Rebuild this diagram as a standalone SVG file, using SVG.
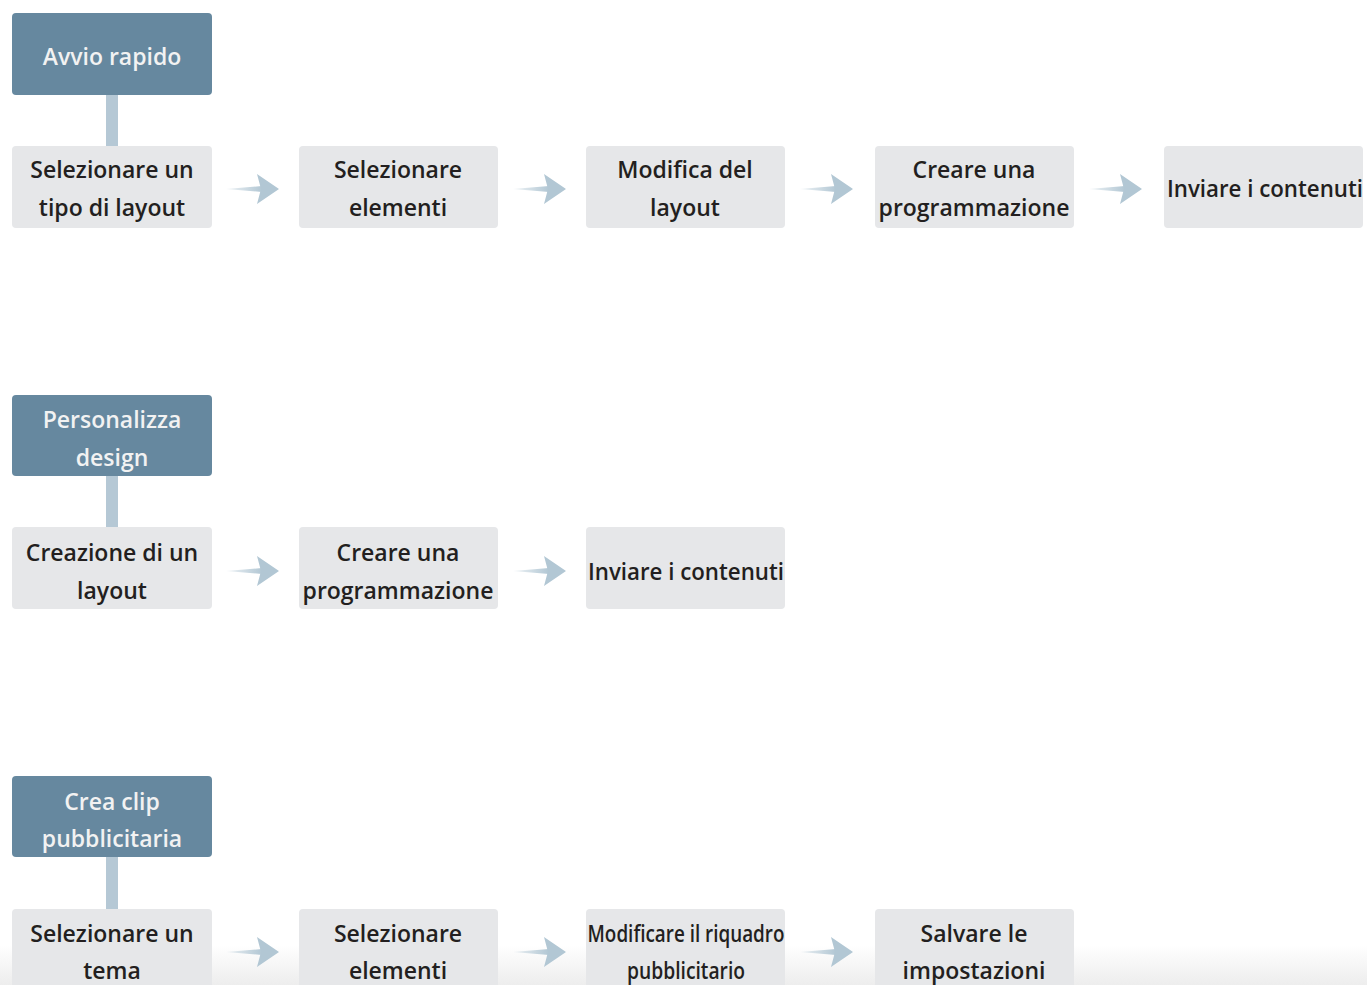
<svg xmlns="http://www.w3.org/2000/svg" width="1367" height="985" viewBox="0 0 1367 985">
<defs>
<linearGradient id="shaft" x1="0" y1="0" x2="1" y2="0">
<stop offset="0" stop-color="#b2c7d4" stop-opacity="0.2"/>
<stop offset="1" stop-color="#b2c7d4"/>
</linearGradient>
<linearGradient id="fade" x1="0" y1="0" x2="0" y2="1">
<stop offset="0" stop-color="#ffffff"/>
<stop offset="1" stop-color="#ededed"/>
</linearGradient>
<g id="arrow">
<polygon points="0,0 36,-3 36,3" fill="url(#shaft)"/>
<polygon points="31,-15 53,0 31,15 35,0" fill="#b2c7d4"/>
</g>
</defs>
<style>
.hdr{fill:#66889f}
.step{fill:#e6e7e9}
.bar{fill:#b5c8d5}
text{font-family:"Open Sans","Noto Sans",sans-serif;font-weight:600;font-size:23px;text-anchor:middle}
.ht{fill:#f2f2f2}
.st{fill:#231f20}
</style>
<rect x="0" y="945" width="1367" height="40" fill="url(#fade)"/>
<g id="connectors">
<rect class="bar" x="106" y="95" width="12" height="51"/>
<rect class="bar" x="106" y="476" width="12" height="51"/>
<rect class="bar" x="106" y="857" width="12" height="52"/>
<use href="#arrow" x="226" y="189"/>
<use href="#arrow" x="513" y="189"/>
<use href="#arrow" x="800" y="189"/>
<use href="#arrow" x="1089" y="189"/>
<use href="#arrow" x="226" y="571"/>
<use href="#arrow" x="513" y="571"/>
<use href="#arrow" x="226" y="952"/>
<use href="#arrow" x="513" y="952"/>
<use href="#arrow" x="800" y="952"/>
</g>
<g id="h1"><rect class="hdr" x="12" y="13" width="200" height="82" rx="4"/><text class="ht" x="112" y="65">Avvio rapido</text></g>
<g id="s1a"><rect class="step" x="12" y="146" width="200" height="82" rx="4"/><text class="st" x="112" y="178">Selezionare un</text><text class="st" x="112" y="216">tipo di layout</text></g>
<g id="s1b"><rect class="step" x="299" y="146" width="199" height="82" rx="4"/><text class="st" x="398" y="178">Selezionare</text><text class="st" x="398" y="216">elementi</text></g>
<g id="s1c"><rect class="step" x="586" y="146" width="199" height="82" rx="4"/><text class="st" x="685" y="178">Modifica del</text><text class="st" x="685" y="216">layout</text></g>
<g id="s1d"><rect class="step" x="875" y="146" width="199" height="82" rx="4"/><text class="st" x="974" y="178">Creare una</text><text class="st" x="974" y="216">programmazione</text></g>
<g id="s1e"><rect class="step" x="1164" y="146" width="199" height="82" rx="4"/><text class="st" x="1265" y="197" textLength="196" lengthAdjust="spacingAndGlyphs">Inviare i contenuti</text></g>
<g id="h2"><rect class="hdr" x="12" y="395" width="200" height="81" rx="4"/><text class="ht" x="112" y="428">Personalizza</text><text class="ht" x="112" y="466">design</text></g>
<g id="s2a"><rect class="step" x="12" y="527" width="200" height="82" rx="4"/><text class="st" x="112" y="561">Creazione di un</text><text class="st" x="112" y="599">layout</text></g>
<g id="s2b"><rect class="step" x="299" y="527" width="199" height="82" rx="4"/><text class="st" x="398" y="561">Creare una</text><text class="st" x="398" y="599">programmazione</text></g>
<g id="s2c"><rect class="step" x="586" y="527" width="199" height="82" rx="4"/><text class="st" x="686" y="580" textLength="196" lengthAdjust="spacingAndGlyphs">Inviare i contenuti</text></g>
<g id="h3"><rect class="hdr" x="12" y="776" width="200" height="81" rx="4"/><text class="ht" x="112" y="810">Crea clip</text><text class="ht" x="112" y="847">pubblicitaria</text></g>
<g id="s3a"><rect class="step" x="12" y="909" width="200" height="82" rx="4"/><text class="st" x="112" y="942">Selezionare un</text><text class="st" x="112" y="979">tema</text></g>
<g id="s3b"><rect class="step" x="299" y="909" width="199" height="82" rx="4"/><text class="st" x="398" y="942">Selezionare</text><text class="st" x="398" y="979">elementi</text></g>
<g id="s3c"><rect class="step" x="586" y="909" width="199" height="82" rx="4"/><text class="st" x="686" y="942" textLength="197" lengthAdjust="spacingAndGlyphs">Modificare il riquadro</text><text class="st" x="686" y="979" textLength="118" lengthAdjust="spacingAndGlyphs">pubblicitario</text></g>
<g id="s3d"><rect class="step" x="875" y="909" width="199" height="82" rx="4"/><text class="st" x="974" y="942">Salvare le</text><text class="st" x="974" y="979">impostazioni</text></g>
</svg>
